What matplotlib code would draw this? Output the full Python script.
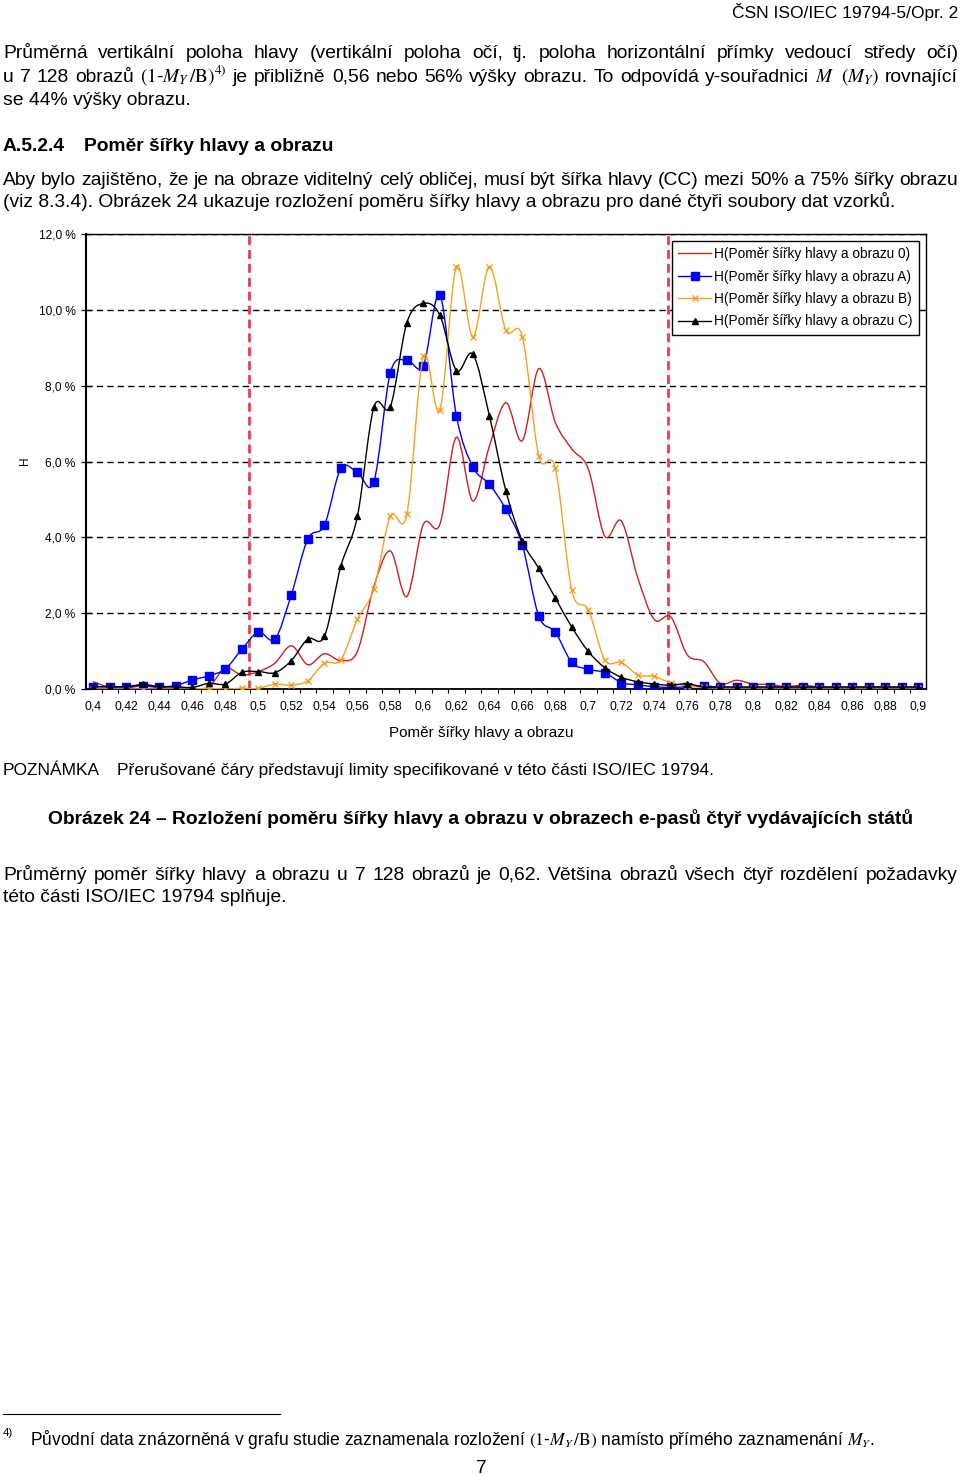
import numpy as np
import matplotlib
matplotlib.use('Agg')
import matplotlib.pyplot as plt
from matplotlib.path import Path
from matplotlib.patches import PathPatch
from matplotlib.lines import Line2D

plt.rcParams['font.family'] = ['Liberation Sans', 'DejaVu Sans']
plt.rcParams['mathtext.fontset'] = 'stix'

# ---------------- data ----------------
ratio = [0.40, 0.41, 0.42, 0.43, 0.44, 0.45, 0.46, 0.47, 0.48, 0.49,
         0.50, 0.51, 0.52, 0.53, 0.54, 0.55, 0.56, 0.57, 0.58, 0.59,
         0.60, 0.61, 0.62, 0.63, 0.64, 0.65, 0.66, 0.67, 0.68, 0.69,
         0.70, 0.71, 0.72, 0.73, 0.74, 0.75, 0.76, 0.77, 0.78, 0.79,
         0.80, 0.81, 0.82, 0.83, 0.84, 0.85, 0.86, 0.87, 0.88, 0.89, 0.90]

h_0 = [0.19, 0.04, 0.03, 0.08, 0.03, 0.02, 0.00, 0.06, 0.55, 0.37,
       0.46, 0.68, 1.14, 0.64, 0.93, 0.75, 0.99, 2.70, 3.64, 2.44,
       4.34, 4.34, 6.64, 4.96, 6.40, 7.55, 6.55, 8.45, 7.03, 6.33,
       5.80, 4.03, 4.43, 2.93, 1.83, 1.90, 0.90, 0.72, 0.15, 0.23,
       0.13, 0.12, 0.06, 0.10, 0.05, 0.05, 0.04, 0.05, 0.04, 0.04, 0.04]

h_a = [0.06, 0.06, 0.06, 0.09, 0.06, 0.09, 0.24, 0.35, 0.53, 1.05,
       1.50, 1.32, 2.49, 3.96, 4.32, 5.82, 5.71, 5.47, 8.34, 8.67,
       8.53, 10.39, 7.21, 5.86, 5.40, 4.74, 3.79, 1.92, 1.50, 0.70,
       0.52, 0.43, 0.17, 0.11, 0.06, 0.04, 0.06, 0.08, 0.05, 0.05,
       0.05, 0.05, 0.05, 0.05, 0.05, 0.05, 0.05, 0.05, 0.05, 0.05, 0.05]

h_b = [0.00, 0.00, 0.00, 0.00, 0.00, 0.00, 0.00, 0.02, 0.00, 0.02,
       0.02, 0.13, 0.10, 0.22, 0.68, 0.77, 1.84, 2.64, 4.56, 4.61,
       8.77, 7.36, 11.14, 9.29, 11.14, 9.46, 9.29, 6.15, 5.82, 2.60,
       2.09, 0.77, 0.70, 0.37, 0.33, 0.16, 0.08, 0.04, 0.03, 0.03,
       0.03, 0.03, 0.03, 0.03, 0.03, 0.03, 0.03, 0.03, 0.03, 0.03, 0.03]

h_c = [0.06, 0.06, 0.06, 0.12, 0.06, 0.06, 0.04, 0.15, 0.13, 0.44,
       0.46, 0.43, 0.75, 1.32, 1.39, 3.24, 4.55, 7.43, 7.45, 9.66,
       10.17, 9.86, 8.40, 8.83, 7.21, 5.23, 3.90, 3.18, 2.40, 1.63,
       0.99, 0.56, 0.31, 0.19, 0.13, 0.10, 0.14, 0.05, 0.05, 0.05,
       0.05, 0.05, 0.05, 0.05, 0.05, 0.05, 0.05, 0.05, 0.05, 0.05, 0.05]

series_labels = ["H(Poměr šířky hlavy a obrazu 0)",
                 "H(Poměr šířky hlavy a obrazu A)",
                 "H(Poměr šířky hlavy a obrazu B)",
                 "H(Poměr šířky hlavy a obrazu C)"]

limits = [0.4945, 0.748]

xtick_vals = [0.40, 0.42, 0.44, 0.46, 0.48, 0.50, 0.52, 0.54, 0.56, 0.58, 0.60,
              0.62, 0.64, 0.66, 0.68, 0.70, 0.72, 0.74, 0.76, 0.78, 0.80,
              0.82, 0.84, 0.86, 0.88, 0.90]
xtick_labels = ["0,4", "0,42", "0,44", "0,46", "0,48", "0,5", "0,52", "0,54", "0,56",
                "0,58", "0,6", "0,62", "0,64", "0,66", "0,68", "0,7", "0,72", "0,74",
                "0,76", "0,78", "0,8", "0,82", "0,84", "0,86", "0,88", "0,9"]
ytick_vals = [0, 2, 4, 6, 8, 10, 12]
ytick_labels = ["0,0 %", "2,0 %", "4,0 %", "6,0 %", "8,0 %", "10,0 %", "12,0 %"]

# ---------------- figure ----------------
W, H = 960, 1475
fig = plt.figure(figsize=(W / 100, H / 100), dpi=100)
renderer = fig.canvas.get_renderer()


def P(x, y):
    return (x / W, 1 - y / H)


def width_of(s, size, **kw):
    t = fig.text(0, 0, s, fontsize=size, **kw)
    w = t.get_window_extent(renderer).width
    t.remove()
    return w


def fit(s, target, **kw):
    return 10 * target / width_of(s, 10, **kw)


def justify(s, y, size, x0=3, x1=958, **kw):
    words = s.split(' ')
    texts = [fig.text(0, 0, w, fontsize=size, va='baseline', **kw) for w in words]
    widths = [t.get_window_extent(renderer).width for t in texts]
    gap = (x1 - x0 - sum(widths)) / (len(words) - 1)
    x = x0
    for t, w in zip(texts, widths):
        t.set_position(P(x, y))
        x += w + gap


body_fs = fit("(viz 8.3.4). Obrázek 24 ukazuje rozložení poměru šířky hlavy a obrazu pro dané čtyři soubory dat vzorků.", 894)
bold_fs = fit("Obrázek 24 – Rozložení poměru šířky hlavy a obrazu v obrazech e-pasů čtyř vydávajících států", 866, fontweight='bold')
note_fs = fit("Přerušované čáry představují limity specifikované v této části ISO/IEC 19794.", 595)
foot_fs = fit("Původní data znázorněná v grafu studie zaznamenala rozložení (1-M /B) namísto přímého zaznamenání M.", 837)
head_fs = fit("ČSN ISO/IEC 19794-5/Opr. 2", 225)

# header
fig.text(*P(958, 18), "ČSN ISO/IEC 19794-5/Opr. 2", fontsize=head_fs, ha='right', va='baseline')

# paragraph 1
justify("Průměrná vertikální poloha hlavy (vertikální poloha očí, tj. poloha horizontální přímky vedoucí středy očí)", 58, body_fs)
justify(r"u 7 128 obrazů $(1$-$M_Y\,/\mathrm{B})^{4)}$ je přibližně 0,56 nebo 56% výšky obrazu. To odpovídá y-souřadnici $M$ $(M_Y)$ rovnající", 82, body_fs)
fig.text(*P(3, 105), "se 44% výšky obrazu.", fontsize=body_fs, va='baseline')

# heading
fig.text(*P(3, 151), "A.5.2.4", fontsize=bold_fs, fontweight='bold', va='baseline')
fig.text(*P(84, 151), "Poměr šířky hlavy a obrazu", fontsize=bold_fs, fontweight='bold', va='baseline')

# paragraph 2
justify("Aby bylo zajištěno, že je na obraze viditelný celý obličej, musí být šířka hlavy (CC) mezi 50% a 75% šířky obrazu", 185, body_fs)
fig.text(*P(3, 207), "(viz 8.3.4). Obrázek 24 ukazuje rozložení poměru šířky hlavy a obrazu pro dané čtyři soubory dat vzorků.",
         fontsize=body_fs, va='baseline')

# ---------------- chart ----------------
x_left, x_right, y_top, y_bot = 86, 925.7, 234, 689
ax = fig.add_axes([x_left / W, 1 - y_bot / H, (x_right - x_left) / W, (y_bot - y_top) / H])
ax.set_xlim(0.3955, 0.9045)
ax.set_ylim(0, 12)

red, blue, orange, black = '#cc2020', '#0000ff', '#f4a020', '#000000'


def smooth(xs, ys, color, lw=1.0, z=2):
    xs = np.asarray(xs, float)
    ys = np.asarray(ys, float)
    xp = np.concatenate([[xs[0]], xs, [xs[-1]]])
    yp = np.concatenate([[ys[0]], ys, [ys[-1]]])
    verts = [(xs[0], ys[0])]
    codes = [Path.MOVETO]
    for i in range(len(xs) - 1):
        p0 = np.array([xp[i], yp[i]])
        p1 = np.array([xp[i + 1], yp[i + 1]])
        p2 = np.array([xp[i + 2], yp[i + 2]])
        p3 = np.array([xp[i + 3], yp[i + 3]])
        c1 = p1 + (p2 - p0) / 6
        c2 = p2 - (p3 - p1) / 6
        verts += [tuple(c1), tuple(c2), tuple(p2)]
        codes += [Path.CURVE4] * 3
    ax.add_patch(PathPatch(Path(verts, codes), fill=False, edgecolor=color, lw=lw, zorder=z,
                           capstyle='round', joinstyle='round'))


ax.yaxis.grid(True, color='black', lw=1.0, ls=(0, (4.5, 3)))
ax.set_axisbelow(True)

for v in limits:
    ax.axvline(v, color='#ee3b4b', lw=2.0, ls=(0, (3.2, 1.8)), zorder=1.5)

smooth(ratio, h_0, red, lw=1.0, z=2)
smooth(ratio, h_a, blue, lw=1.0, z=3)
ax.plot(ratio, h_a, ls='none', marker='s', ms=5.8, color=blue, zorder=3.1)
smooth(ratio, h_b, orange, lw=1.0, z=4)
ax.plot(ratio, h_b, ls='none', marker='x', ms=5, mew=1.0, color=orange, zorder=4.1)
smooth(ratio, h_c, black, lw=1.0, z=5)
ax.plot(ratio, h_c, ls='none', marker='^', ms=5, color=black, zorder=5.1)

ax.set_xticks(xtick_vals)
ax.set_xticklabels(xtick_labels, fontsize=8.7)
ax.tick_params(axis='x', which='major', length=0, pad=8.5)
bounds = [(a + b) / 2 for a, b in zip(ratio[:-1], ratio[1:])]
ax.set_xticks(bounds, minor=True)
ax.tick_params(axis='x', which='minor', direction='out', length=3, width=0.8)
ax.set_yticks(ytick_vals)
ax.set_yticklabels(ytick_labels, fontsize=8.6)
ax.tick_params(axis='y', direction='inout', length=7, width=0.9, pad=4)

for s in ax.spines.values():
    s.set_linewidth(1.0)
ax.spines['left'].set_linewidth(1.5)
ax.spines['bottom'].set_linewidth(1.3)

xl_fs = fit("Poměr šířky hlavy a obrazu", 186)
fig.text(*P(481, 737), "Poměr šířky hlavy a obrazu", fontsize=xl_fs, ha='center', va='baseline')
fig.text(*P(25, 461), "H", fontsize=8.5, rotation=90, ha='center', va='center')

leg_fs = fit(series_labels[0], 196)
handles = [Line2D([], [], color=red, lw=1.0),
           Line2D([], [], color=blue, lw=1.0, marker='s', ms=5.5),
           Line2D([], [], color=orange, lw=1.0, marker='x', ms=5, mew=1.0),
           Line2D([], [], color=black, lw=1.0, marker='^', ms=5)]
leg = ax.legend(handles, series_labels, loc='upper right', bbox_to_anchor=P(919, 241),
                bbox_transform=fig.transFigure, fancybox=False, framealpha=1, edgecolor='black',
                fontsize=leg_fs, handlelength=2.4, handletextpad=0.25, labelspacing=0.62,
                borderpad=0.45, borderaxespad=0)
leg.get_frame().set_linewidth(1.0)

# ---------------- text below chart ----------------
fig.text(*P(3, 775), "POZNÁMKA", fontsize=note_fs, va='baseline')
fig.text(*P(117, 775), "Přerušované čáry představují limity specifikované v této části ISO/IEC 19794.",
         fontsize=note_fs, va='baseline')
fig.text(*P(481, 824), "Obrázek 24 – Rozložení poměru šířky hlavy a obrazu v obrazech e-pasů čtyř vydávajících států",
         fontsize=bold_fs, fontweight='bold', ha='center', va='baseline')
justify("Průměrný poměr šířky hlavy a obrazu u 7 128 obrazů je 0,62. Většina obrazů všech čtyř rozdělení požadavky", 880, body_fs)
fig.text(*P(3, 902), "této části ISO/IEC 19794 splňuje.", fontsize=body_fs, va='baseline')

# footnote
fig.add_artist(Line2D([3 / W, 280 / W], [1 - 1414 / H, 1 - 1414 / H], color='black', lw=0.8))
fig.text(*P(3, 1436), "4)", fontsize=foot_fs * 0.65, va='baseline')
fig.text(*P(30, 1445), r"Původní data znázorněná v grafu studie zaznamenala rozložení $(1$-$M_Y\,/\mathrm{B})$ namísto přímého zaznamenání $M_Y$.",
         fontsize=foot_fs, va='baseline')
fig.text(*P(481, 1473), "7", fontsize=body_fs, ha='center', va='baseline')

fig.savefig('out.png', dpi=100)
